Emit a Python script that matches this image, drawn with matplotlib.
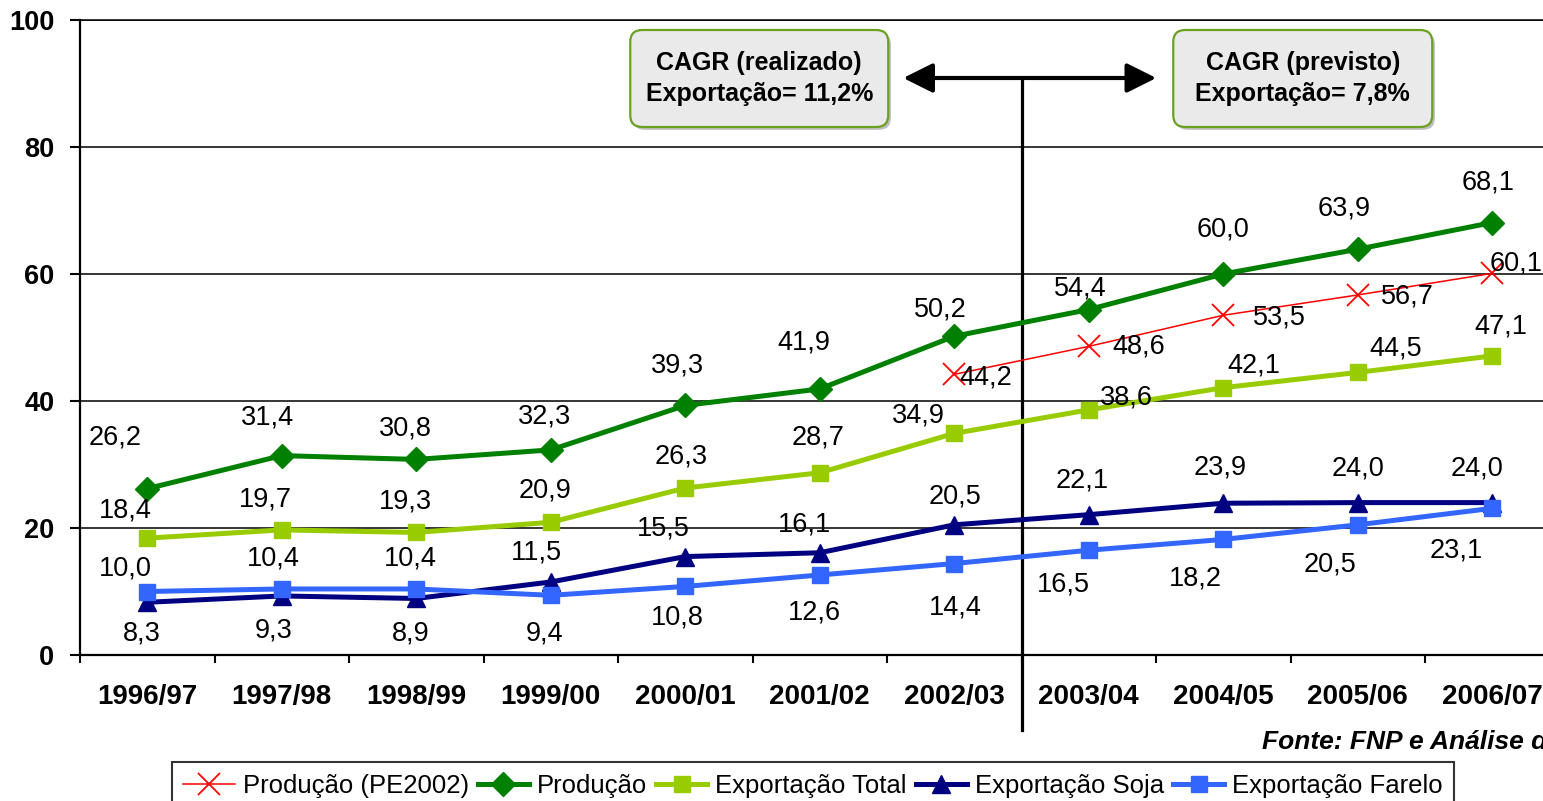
import numpy as np
import matplotlib

matplotlib.use("Agg")
import matplotlib.pyplot as plt
from matplotlib.patches import FancyBboxPatch

plt.rcParams["font.family"] = ["Liberation Sans", "DejaVu Sans"]

# data
safras = ["1996/97", "1997/98", "1998/99", "1999/00", "2000/01", "2001/02",
          "2002/03", "2003/04", "2004/05", "2005/06", "2006/07"]
producao = [26.2, 31.4, 30.8, 32.3, 39.3, 41.9, 50.2, 54.4, 60.0, 63.9, 68.1]
producao_pe2002 = [44.2, 48.6, 53.5, 56.7, 60.1]  # from 2002/03 on
exp_total = [18.4, 19.7, 19.3, 20.9, 26.3, 28.7, 34.9, 38.6, 42.1, 44.5, 47.1]
exp_soja = [8.3, 9.3, 8.9, 11.5, 15.5, 16.1, 20.5, 22.1, 23.9, 24.0, 24.0]
exp_farelo = [10.0, 10.4, 10.4, 9.4, 10.8, 12.6, 14.4, 16.5, 18.2, 20.5, 23.1]

# label offsets (pixels, dx right / dy up) - hand placed like the original
off_prod = [(-32, 51), (-14, 38), (-11, 31), (-6, 33), (-8, 40), (-16, 46),
            (-14, 27), (-8, 21), (0, 45), (-14, 41), (-4, 40)]
off_pe = [(32, -3), (50, 0), (56, -2), (50, -2), (24, 10)]
off_total = [(-22, 28), (-16, 30), (-11, 31), (-6, 32), (-4, 31), (-2, 35),
             (-36, 18), (38, 12), (31, 22), (38, 24), (9, 29)]
off_soja = [(-5, -31), (-8, -35), (-6, -35), (-14, 29), (-22, 28), (-15, 28),
            (1, 28), (-7, 34), (-3, 36), (0, 34), (-15, 34)]
off_farelo = [(-22, 23), (-8, 30), (-6, 30), (-6, -38), (-8, -31), (-5, -38),
              (1, -44), (-25, -34), (-28, -39), (-28, -40), (-36, -42)]

W, H = 1543, 801
fig = plt.figure(figsize=(W / 100, H / 100), dpi=100)
ax = fig.add_axes([80 / W, 146 / H, 1479.5 / W, 635 / H])

x = np.arange(len(safras))
x_pe = x[len(safras) - len(producao_pe2002):]


def px2x(px):
    return (px - 147) / 134.5


def px2y(py):
    return (655 - py) / 6.35


series = [
    ("Produção (PE2002)", x_pe, producao_pe2002, "#FF0000", "x", 16, 1.1, off_pe),
    ("Produção", x, producao, "#008000", "D", 12, 3.6, off_prod),
    ("Exportação Total", x, exp_total, "#99CC00", "s", 11, 3.6, off_total),
    ("Exportação Soja", x, exp_soja, "#000080", "^", 13, 3.6, off_soja),
    ("Exportação Farelo", x, exp_farelo, "#3366FF", "s", 11, 3.6, off_farelo),
]

handles = []
for i, (name, xs, ys, col, mk, ms, lw, offs) in enumerate(series):
    (ln,) = ax.plot(xs, ys, color=col, lw=lw, marker=mk, ms=ms,
                    mec=col, mfc=col, mew=1.3 if mk == "x" else 1,
                    label=name, zorder=3 + i, clip_on=False)
    handles.append(ln)
    for xi, yi, (dx, dy) in zip(xs, ys, offs):
        ax.annotate(f"{yi:.1f}".replace(".", ","), (xi, yi),
                    xytext=(dx * 0.72, dy * 0.72), textcoords="offset points",
                    ha="center", va="center", fontsize=19.5, color="black",
                    zorder=10, annotation_clip=False)

ax.set_xlim(-0.5, 10.5)
ax.set_ylim(0, 100)
ax.set_yticks([0, 20, 40, 60, 80, 100])
ax.yaxis.grid(True, color="black", lw=1.1)
ax.set_axisbelow(True)
ax.spines["right"].set_visible(False)
ax.spines["top"].set_linewidth(1.1)
ax.spines["left"].set_linewidth(1.6)
ax.spines["bottom"].set_linewidth(1.6)

ax.set_xticks(x)
ax.set_xticklabels(safras, fontsize=20, fontweight="bold")
ax.set_xticks(np.arange(-0.5, 11, 1), minor=True)
ax.tick_params(axis="x", which="major", length=0, pad=21)
ax.tick_params(axis="x", which="minor", length=6, width=1.5, direction="out")
ax.tick_params(axis="y", length=7.5, width=1.5, pad=11)
for t in ax.get_yticklabels():
    t.set_fontsize(19.5)
    t.set_fontweight("bold")

# divider between realized and forecast
ax.plot([6.5, 6.5], [px2y(78), px2y(730)], color="black", lw=2.3,
        clip_on=False, zorder=2)
ax.annotate("", xy=(px2x(903), px2y(78)), xytext=(px2x(1156), px2y(78)),
            arrowprops=dict(arrowstyle="<|-|>,head_length=0.9,head_width=0.45",
                            lw=3, color="black", shrinkA=0, shrinkB=0,
                            mutation_scale=20),
            annotation_clip=False, zorder=2)

# CAGR boxes
boxes = [(630, 888, "CAGR (realizado)\nExportação= 11,2%"),
         (1173, 1432, "CAGR (previsto)\nExportação= 7,8%")]
for x0, x1, txt in boxes:
    bx0, bx1 = px2x(x0), px2x(x1)
    by0, by1 = px2y(127), px2y(30)
    shadow = FancyBboxPatch((bx0 + 0.02, by0 - 0.45), bx1 - bx0, by1 - by0,
                            boxstyle="round,pad=0,rounding_size=0.09",
                            mutation_aspect=21, fc="#BFBFBF", ec="none",
                            zorder=7, clip_on=False)
    ax.add_patch(shadow)
    box = FancyBboxPatch((bx0, by0), bx1 - bx0, by1 - by0,
                         boxstyle="round,pad=0,rounding_size=0.09",
                         mutation_aspect=21, fc="#EAEAEA", ec="#6AA121",
                         lw=1.6, zorder=8, clip_on=False)
    ax.add_patch(box)
    ax.text((bx0 + bx1) / 2, (by0 + by1) / 2, txt, ha="center", va="center",
            fontsize=18, fontweight="bold", linespacing=1.35, zorder=9)

fig.text(1262 / W, (H - 742) / H, "Fonte: FNP e Análise da consultoria",
         fontsize=19, fontweight="bold", style="italic", ha="left", va="center")

leg = fig.legend(handles=handles, loc="upper center",
                 bbox_to_anchor=(813 / W, (H - 762) / H), ncol=5, fontsize=18.5,
                 frameon=True, fancybox=False, edgecolor="black",
                 handlelength=2.0, handletextpad=0.3, columnspacing=0.35,
                 borderpad=0.45, borderaxespad=0)
leg.get_frame().set_linewidth(1.5)

fig.savefig("out.png", dpi=100)
